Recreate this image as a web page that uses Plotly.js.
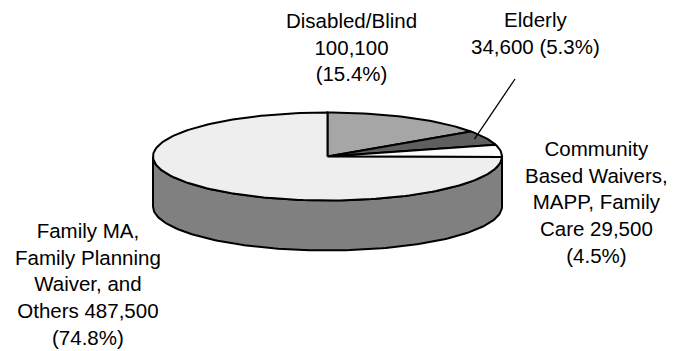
<!DOCTYPE html>
<html>
<head>
<meta charset="utf-8">
<script src="https://cdn.plot.ly/plotly-3.0.1.min.js"></script>
<style>html,body{margin:0;padding:0;background:#fff;}#chart{width:673px;height:351px;}</style>
</head>
<body>
<div id="chart"></div>
<script>
// ---- data ----
var categories = ["Disabled/Blind", "Elderly", "Community Based Waivers, MAPP, Family Care", "Family MA, Family Planning Waiver, and Others"];
var values = [100100, 34600, 29500, 487500];
var labelLines = [
  ["Disabled/Blind", "100,100", "(15.4%)"],
  ["Elderly", "34,600 (5.3%)"],
  ["Community", "Based Waivers,", "MAPP, Family", "Care 29,500", "(4.5%)"],
  ["Family MA,", "Family Planning", "Waiver, and", "Others 487,500", "(74.8%)"]
];
var sliceColors = ["#a6a6a6", "#5f5f5f", "#fcfcfc", "#eeeeee"];
var sideColor = "#808080";

// ---- geometry (layout) ----
var cx = 327.5, cy = 156.5, ra = 174.5, rb = 44, depth = 50;
var labelPos = [[351, 47], [535, 32.5], [596, 202], [88, 284]];
var leaderEnd = [515, 79];

function pt(deg, dy, r) {
  r = r || 1;
  var t = deg * Math.PI / 180;
  return [cx + r * ra * Math.sin(t), cy - r * rb * Math.cos(t) + (dy || 0)];
}
function arc(a0, a1, dy) {
  var n = Math.max(2, Math.ceil(Math.abs(a1 - a0) / 1.5));
  var xs = [], ys = [];
  for (var i = 0; i <= n; i++) {
    var p = pt(a0 + (a1 - a0) * i / n, dy);
    xs.push(p[0]); ys.push(p[1]);
  }
  return [xs, ys];
}

var total = values.reduce(function (s, v) { return s + v; }, 0);
var traces = [];

// side wall (front visible half, 90..270 deg clockwise from top)
var topA = arc(90, 270, 0), botA = arc(270, 90, depth);
traces.push({
  type: "scatter", mode: "lines", fill: "toself", fillcolor: sideColor,
  x: topA[0].concat(botA[0]).concat([topA[0][0]]),
  y: topA[1].concat(botA[1]).concat([topA[1][0]]),
  line: {color: "#000", width: 2}, hoverinfo: "skip"
});

// top slices
var cum = 0, mids = [];
values.forEach(function (v, i) {
  var a0 = cum / total * 360;
  cum += v;
  var a1 = cum / total * 360;
  mids.push((a0 + a1) / 2);
  var A = arc(a0, a1, 0);
  traces.push({
    type: "scatter", mode: "lines", fill: "toself", fillcolor: sliceColors[i],
    x: [cx].concat(A[0]).concat([cx]),
    y: [cy].concat(A[1]).concat([cy]),
    line: {color: "#000", width: 2}, hoverinfo: "skip"
  });
});

// leader line for Elderly
var lp = pt(mids[1], 0, 0.93);
traces.push({
  type: "scatter", mode: "lines",
  x: [lp[0], leaderEnd[0]], y: [lp[1], leaderEnd[1]],
  line: {color: "#000", width: 1.3}, hoverinfo: "skip"
});

var annotations = labelLines.map(function (lines, i) {
  return {
    x: labelPos[i][0], y: labelPos[i][1], xref: "x", yref: "y",
    text: lines.join("<br>"), showarrow: false,
    xanchor: "center", yanchor: "middle", align: "center",
    font: {family: "Liberation Sans, Arial, sans-serif", size: 20.5, color: "#000"}
  };
});

var layout = {
  width: 673, height: 351,
  margin: {l: 0, r: 0, t: 0, b: 0},
  paper_bgcolor: "#fff", plot_bgcolor: "#fff",
  showlegend: false, hovermode: false,
  xaxis: {range: [0, 673], visible: false, fixedrange: true},
  yaxis: {range: [351, 0], visible: false, fixedrange: true},
  annotations: annotations
};

Plotly.newPlot("chart", traces, layout, {staticPlot: true, displayModeBar: false});
</script>
</body>
</html>
